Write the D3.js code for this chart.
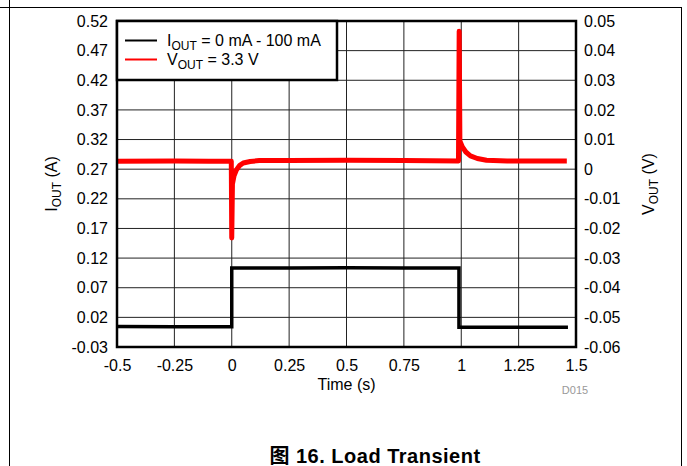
<!DOCTYPE html>
<html><head><meta charset="utf-8">
<script src="https://cdn.jsdelivr.net/npm/d3@7"></script>
<style>
html,body{margin:0;padding:0;background:#fff;}
svg{display:block;font-family:"Liberation Sans",Arial,sans-serif;}
</style></head>
<body><svg id="c" width="687" height="466"></svg>
<script>
// ---- data ----
const xTicks = [-0.5, -0.25, 0, 0.25, 0.5, 0.75, 1, 1.25, 1.5];
const xTickLabels = ["-0.5","-0.25","0","0.25","0.5","0.75","1","1.25","1.5"];
const leftTicks = [0.52,0.47,0.42,0.37,0.32,0.27,0.22,0.17,0.12,0.07,0.02,-0.03];
const leftTickLabels = ["0.52","0.47","0.42","0.37","0.32","0.27","0.22","0.17","0.12","0.07","0.02","-0.03"];
const rightTicks = [0.05,0.04,0.03,0.02,0.01,0,-0.01,-0.02,-0.03,-0.04,-0.05,-0.06];
const rightTickLabels = ["0.05","0.04","0.03","0.02","0.01","0","-0.01","-0.02","-0.03","-0.04","-0.05","-0.06"];
// IOUT (A) vs time (s)
const ioutTime = [-0.5, -0.25, 0, 0, 0.25, 0.5, 0.75, 0.99, 0.99, 1.25, 1.465];
const ioutVal  = [0.0045, 0.0043, 0.0043, 0.1033, 0.1034, 0.1035, 0.1034, 0.1033, 0.0035, 0.0034, 0.0033];
// VOUT deviation (V) vs time (s)
const voutTime = [-0.5, -0.25, -0.1, -0.002, 0.0, 0.003, 0.01, 0.02, 0.035, 0.05, 0.08, 0.12, 0.25, 0.5, 0.75, 0.988, 0.991, 0.994, 1.005, 1.02, 1.04, 1.07, 1.11, 1.2, 1.46];
const voutVal  = [0.0027, 0.0028, 0.0027, 0.0027, -0.0232, -0.0050, -0.0022, -0.0003, 0.0013, 0.0021, 0.0026, 0.0029, 0.0029, 0.0030, 0.0029, 0.0028, 0.0465, 0.0095, 0.0075, 0.0058, 0.0045, 0.0036, 0.0030, 0.0028, 0.0028];

// ---- layout ----
const svg = d3.select("#c");
const L = 117, R = 576, T = 21, B = 347;
const x = d3.scaleLinear().domain([-0.5, 1.5]).range([L, R]);
const yL = d3.scaleLinear().domain([-0.03, 0.52]).range([B, T]);
const yR = d3.scaleLinear().domain([-0.06, 0.05]).range([B, T]);
const FS = 16, SFS = 12;

// page frame
svg.append("line").attr("x1",0).attr("x2",681).attr("y1",7.5).attr("y2",7.5).attr("stroke","#000").attr("stroke-width",1);
svg.append("line").attr("x1",9.5).attr("x2",9.5).attr("y1",0).attr("y2",466).attr("stroke","#000").attr("stroke-width",1);
svg.append("line").attr("x1",681.5).attr("x2",681.5).attr("y1",7).attr("y2",466).attr("stroke","#000").attr("stroke-width",1);

// gridlines
const g = svg.append("g");
g.selectAll(".vg").data(xTicks).enter().append("line")
  .attr("x1",d=>x(d)).attr("x2",d=>x(d)).attr("y1",T).attr("y2",B)
  .attr("stroke","#222").attr("stroke-width",1);
g.selectAll(".hg").data(leftTicks).enter().append("line")
  .attr("x1",L).attr("x2",R).attr("y1",d=>yL(d)).attr("y2",d=>yL(d))
  .attr("stroke","#222").attr("stroke-width",1);

// axes (labels only)
const axB = d3.axisBottom(x).tickValues(xTicks).tickFormat((d,i)=>xTickLabels[i]).tickSize(0).tickPadding(13);
const axL = d3.axisLeft(yL).tickValues(leftTicks).tickFormat((d,i)=>leftTickLabels[i]).tickSize(0).tickPadding(9);
const axR = d3.axisRight(yR).tickValues(rightTicks).tickFormat((d,i)=>rightTickLabels[i]).tickSize(0).tickPadding(8);
[[axB,`translate(0,${B})`],[axL,`translate(${L},0)`],[axR,`translate(${R},0)`]].forEach(([a,tr])=>{
  const s = svg.append("g").attr("transform",tr).call(a);
  s.select(".domain").remove();
  s.selectAll("text").attr("font-size",FS).attr("font-family","Liberation Sans, Arial, sans-serif").attr("fill","#000");
});

// data lines
const iout = ioutTime.map((t,i)=>[t, ioutVal[i]]);
const vout = voutTime.map((t,i)=>[t, voutVal[i]]);
svg.append("path").datum(iout)
  .attr("d", d3.line().x(d=>x(d[0])).y(d=>yL(d[1])))
  .attr("fill","none").attr("stroke","#000").attr("stroke-width",3.5);
svg.append("path").datum(vout)
  .attr("d", d3.line().x(d=>x(d[0])).y(d=>yR(d[1])))
  .attr("fill","none").attr("stroke","#ff0000").attr("stroke-width",5).attr("stroke-linejoin","round");

// plot border
svg.append("rect").attr("x",L).attr("y",T).attr("width",R-L).attr("height",B-T)
  .attr("fill","none").attr("stroke","#000").attr("stroke-width",2.5);

// legend
const lg = svg.append("g");
lg.append("rect").attr("x",L).attr("y",T).attr("width",220).attr("height",59)
  .attr("fill","#fff").attr("stroke","#000").attr("stroke-width",2.5);
const legendItems = [
  {main:"I", sub:"OUT", rest:" = 0 mA - 100 mA", color:"#000", y:40.5},
  {main:"V", sub:"OUT", rest:" = 3.3 V", color:"#ff0000", y:59.5}
];
legendItems.forEach(it=>{
  lg.append("line").attr("x1",125).attr("x2",157).attr("y1",it.y).attr("y2",it.y)
    .attr("stroke",it.color).attr("stroke-width",2);
  const t = lg.append("text").attr("x",167).attr("y",it.y+5).attr("font-size",FS);
  t.append("tspan").text(it.main);
  t.append("tspan").attr("font-size",SFS).attr("dy",4).text(it.sub);
  t.append("tspan").attr("dy",-4).text(it.rest);
});

// axis titles
svg.append("text").attr("x",346.5).attr("y",390).attr("text-anchor","middle").attr("font-size",FS).text("Time (s)");
const lt = svg.append("text").attr("transform",`translate(57,${(T+B)/2}) rotate(-90)`).attr("text-anchor","middle").attr("font-size",FS);
lt.append("tspan").text("I"); lt.append("tspan").attr("font-size",SFS).attr("dy",4).text("OUT"); lt.append("tspan").attr("dy",-4).text(" (A)");
const rt = svg.append("text").attr("transform",`translate(654,${(T+B)/2}) rotate(-90)`).attr("text-anchor","middle").attr("font-size",FS);
rt.append("tspan").text("V"); rt.append("tspan").attr("font-size",SFS).attr("dy",4).text("OUT"); rt.append("tspan").attr("dy",-4).text(" (V)");

svg.append("text").attr("x",575).attr("y",394).attr("text-anchor","middle").attr("font-size",11).attr("fill","#999").text("D015");

svg.append("text").attr("x",375).attr("y",463).attr("text-anchor","middle").attr("font-size",20).attr("font-weight","bold")
  .attr("letter-spacing",0.5)
  .attr("font-family","'Liberation Sans','Noto Sans CJK SC',Arial,sans-serif").text("图 16. Load Transient");
</script></body></html>
